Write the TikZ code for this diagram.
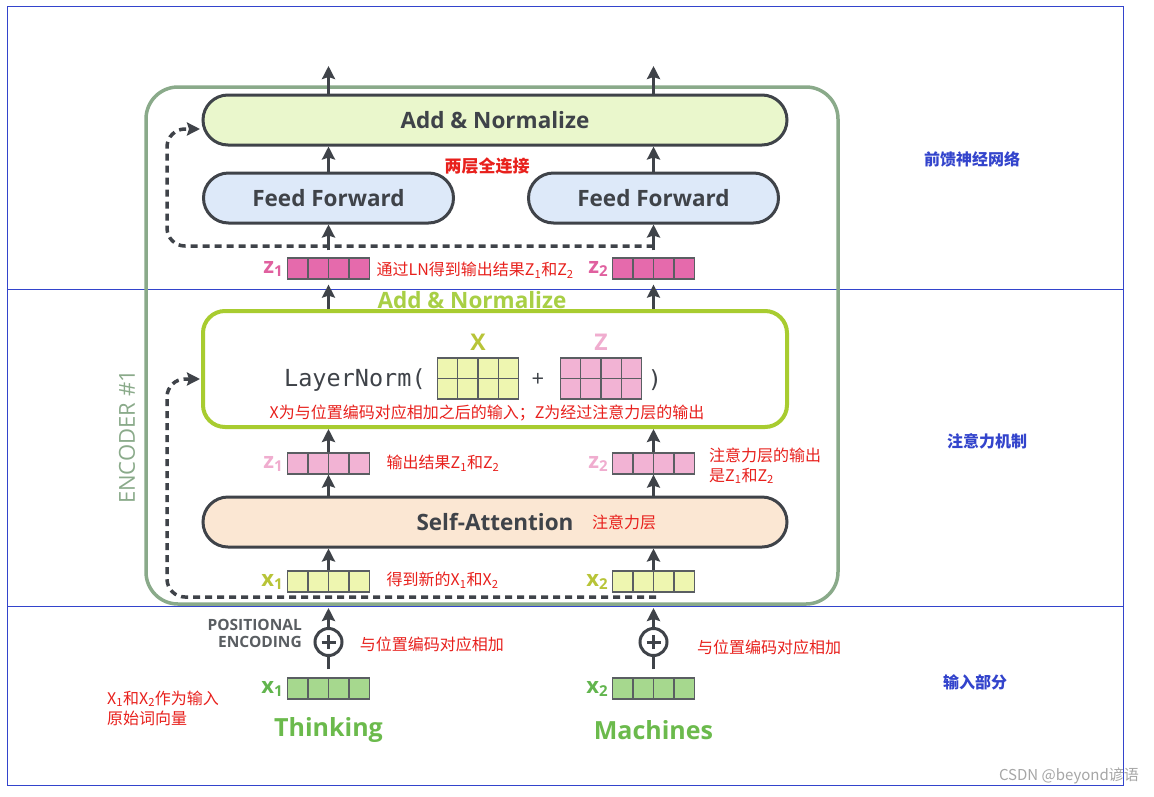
\documentclass[tikz,border=0pt]{standalone}
\usepackage{fontspec}
\setmainfont{Open Sans}
\setmonofont{DejaVu Sans Mono}
\newfontfamily\cjk{Noto Sans CJK SC}
\usetikzlibrary{arrows.meta}
\usetikzlibrary{positioning}

\definecolor{partblue}{HTML}{3344CC}
\definecolor{framegreen}{HTML}{8AAA8A}
\definecolor{inkgray}{HTML}{3F4349}
\definecolor{rulegray}{HTML}{5A5E62}
\definecolor{normfill}{HTML}{EAF7CC}
\definecolor{fffill}{HTML}{DDE9F9}
\definecolor{lngreen}{HTML}{A8CC30}
\definecolor{lngreentext}{HTML}{A8CF45}
\definecolor{attfill}{HTML}{FBE7D3}
\definecolor{zdark}{HTML}{E56AAC}
\definecolor{zdarklbl}{HTML}{E0609F}
\definecolor{zlight}{HTML}{F2B3D4}
\definecolor{zlightlbl}{HTML}{F0ADCF}
\definecolor{xlight}{HTML}{EEF6B0}
\definecolor{xlightlbl}{HTML}{B8C438}
\definecolor{xinput}{HTML}{A6D88E}
\definecolor{xinputlbl}{HTML}{62B54E}
\definecolor{wordgreen}{HTML}{6BBA4C}
\definecolor{notered}{HTML}{E8201C}

% one word vector: name, centre x, centre y, fill
\newcommand{\wordvec}[4]{%
  \node[vecbox, fill=#4] (#1) at (#2,#3) {};
  \foreach \k in {1,2,3}
    \draw[vecline] ({#2-41+\k*20.5},{#3-10.5}) -- ({#2-41+\k*20.5},{#3+10.5});
}
% two word vectors stacked: name, centre x, centre y, fill
\newcommand{\wordgrid}[4]{%
  \node[vecbox, fill=#4, minimum width=81pt, minimum height=41pt] (#1) at (#2,#3) {};
  \foreach \k in {1,2,3}
    \draw[vecline] ({#2-40.5+\k*20.25},{#3-20.5}) -- ({#2-40.5+\k*20.25},{#3+20.5});
  \draw[vecline] ({#2-40.5},#3) -- ({#2+40.5},#3);
}
\newcommand{\veclabel}[2]{{\fontsize{22}{22}\selectfont\bfseries #1\raisebox{-3pt}{\fontsize{15}{15}\selectfont #2}}}

\begin{document}
\begin{tikzpicture}[x=1pt,y=-1pt,>={Stealth[length=13pt,width=13pt,inset=2pt]},
    pill/.style={draw=inkgray, line width=3pt, rounded corners=25pt, minimum height=50pt,
      inner sep=0pt, text=inkgray, font=\bfseries\fontsize{22.5}{26}\selectfont},
    vecbox/.style={draw=rulegray, line width=1.2pt, minimum width=82pt, minimum height=21pt, inner sep=0pt},
    vecline/.style={rulegray, line width=1.2pt},
    veclbl/.style={inner sep=0pt},
    flow/.style={->, inkgray, line width=3.5pt},
    skip/.style={->, inkgray, line width=3.5pt, dash pattern=on 7pt off 5pt, rounded corners=18pt},
    note/.style={text=notered, inner sep=0pt, anchor=west, align=left,
      font=\cjk\fontsize{16}{20}\selectfont},
    part/.style={text=partblue, inner sep=0pt, font=\cjk\bfseries\fontsize{16}{19}\selectfont}]
  \useasboundingbox (0,0) rectangle (1154,796);
  \fill[white] (0,0) rectangle (1154,796);

  % three parts
  \draw[partblue, line width=1pt] (7,6) rectangle (1123,785)
    (7,289) -- (1123,289) (7,606) -- (1123,606);
  \node[part] (ffpart) at (972,159) {前馈神经网络};
  \node[part] (attpart) at (987,441) {注意力机制};
  \node[part] (inpart) at (975,682) {输入部分};

  % encoder
  \draw[framegreen, line width=3.5pt, rounded corners=32pt] (146,87) rectangle (838,604);
  \node[rotate=90, text=framegreen, font=\fontsize{22}{22}\selectfont] (enclbl) at (127,437) {ENCODER \#1};

  % feed forward
  \node[pill, fill=normfill, minimum width=584pt] (addtop) at (495,120) {Add \& Normalize};
  \node[pill, fill=fffill, minimum width=250pt] (ff1) at (328.5,198) {Feed Forward};
  \node[pill, fill=fffill, minimum width=250pt] (ff2) at (653.5,198) {Feed Forward};
  \coordinate (out1) at (328.5,66);
  \coordinate (out2) at (653.5,66);
  \draw[flow] (addtop.north -| out1) -- (out1);
  \draw[flow] (addtop.north -| out2) -- (out2);
  \draw[flow] (ff1.north) -- (ff1.north |- addtop.south);
  \draw[flow] (ff2.north) -- (ff2.north |- addtop.south);
  \node[note, anchor=center, font=\cjk\bfseries\fontsize{17}{20}\selectfont] (fcnote) at (487,166) {两层全连接};

  \wordvec{zt1}{328.5}{268.5}{zdark}
  \wordvec{zt2}{653.5}{268.5}{zdark}
  \node[veclbl, text=zdarklbl, left=4pt of zt1] (zt1lbl) {\veclabel{z}{1}};
  \node[veclbl, text=zdarklbl, left=4pt of zt2] (zt2lbl) {\veclabel{z}{2}};
  \node[note] (zlnnote) at (376.5,270) {通过LN得到输出结果Z\textsubscript{1}和Z\textsubscript{2}};
  \draw[flow] ([yshift=7pt]zt1.north) -- (ff1.south);
  \draw[flow] ([yshift=7pt]zt2.north) -- (ff2.south);
  \coordinate (skipout1) at (653.5,246);
  \coordinate (skipin1) at (200,129);
  \draw[skip] (skipout1) -- (167,246) -- (167,129) -- (skipin1);

  % attention
  \node[text=lngreentext, font=\bfseries\fontsize{22.5}{26}\selectfont, inner sep=0pt] (addlbl) at (472,300) {Add \& Normalize};
  \node[draw=lngreen, line width=4pt, rounded corners=22pt, minimum width=584pt,
    minimum height=116pt, fill=white] (lnbox) at (495,369) {};
  \node[anchor=west, inner sep=0pt, text=inkgray, font=\ttfamily\fontsize{23.5}{26}\selectfont] (lnopen) at (284,380) {LayerNorm(};
  \wordgrid{xgrid}{478}{378.5}{xlight}
  \wordgrid{zgrid}{601}{378.5}{zlight}
  \node[text=xlightlbl, font=\bfseries\fontsize{23}{23}\selectfont] (xlbl) at (478,342) {X};
  \node[text=zlightlbl, font=\bfseries\fontsize{23}{23}\selectfont] (zlbl) at (601,342) {Z};
  \node[text=inkgray, font=\fontsize{22}{22}\selectfont] (plus) at (538,380) {+};
  \node[text=inkgray, font=\ttfamily\fontsize{23.5}{26}\selectfont] (lnclose) at (655,380) {)};
  \node[note, anchor=center] (xznote) at (487,413) {X为与位置编码对应相加之后的输入；Z为经过注意力层的输出};
  \draw[flow] (lnbox.north -| zt1) -- ([yshift=-5pt]zt1.south);
  \draw[flow] (lnbox.north -| zt2) -- ([yshift=-5pt]zt2.south);

  \wordvec{zm1}{328.5}{463.5}{zlight}
  \wordvec{zm2}{653.5}{463.5}{zlight}
  \node[veclbl, text=zlightlbl, left=4pt of zm1] (zm1lbl) {\veclabel{z}{1}};
  \node[veclbl, text=zlightlbl, left=4pt of zm2] (zm2lbl) {\veclabel{z}{2}};
  \node[note] (zmnote) at (386.5,463) {输出结果Z\textsubscript{1}和Z\textsubscript{2}};
  \node[note] (attoutnote) at (709,465.5) {注意力层的输出\\是Z\textsubscript{1}和Z\textsubscript{2}};
  \draw[flow] (zm1.north) -- (zm1.north |- lnbox.south);
  \draw[flow] (zm2.north) -- (zm2.north |- lnbox.south);

  \node[pill, fill=attfill, minimum width=584pt] (selfatt) at (495,522) {Self-Attention};
  \node[note] (attnote) at (592,522) {注意力层};
  \draw[flow] (selfatt.north -| zm1) -- (zm1.south);
  \draw[flow] (selfatt.north -| zm2) -- (zm2.south);

  \wordvec{xm1}{328.5}{581.5}{xlight}
  \wordvec{xm2}{653.5}{581.5}{xlight}
  \node[veclbl, text=xlightlbl, left=4pt of xm1] (xm1lbl) {\veclabel{x}{1}};
  \node[veclbl, text=xlightlbl, left=4pt of xm2] (xm2lbl) {\veclabel{x}{2}};
  \node[note] (xmnote) at (386.5,580) {得到新的X\textsubscript{1}和X\textsubscript{2}};
  \draw[flow] (xm1.north) -- (xm1.north |- selfatt.south);
  \draw[flow] (xm2.north) -- (xm2.north |- selfatt.south);
  \coordinate (skipout2) at (656,597);
  \coordinate (skipin2) at (200,379);
  \draw[skip] (skipout2) -- (167,597) -- (167,379) -- (skipin2);

  % input
  \wordvec{xi1}{328.5}{688.5}{xinput}
  \wordvec{xi2}{653.5}{688.5}{xinput}
  \node[veclbl, text=xinputlbl, left=4pt of xi1] (xi1lbl) {\veclabel{x}{1}};
  \node[veclbl, text=xinputlbl, left=4pt of xi2] (xi2lbl) {\veclabel{x}{2}};
  \node[text=wordgreen, font=\bfseries\fontsize{25}{28}\selectfont] (word1) at (328.5,730) {Thinking};
  \node[text=wordgreen, font=\bfseries\fontsize{25}{28}\selectfont] (word2) at (653.5,730) {Machines};
  \node[note] (wordnote) at (107,708) {X\textsubscript{1}和X\textsubscript{2}作为输入\\原始词向量};

  \foreach \n/\x in {1/328.5, 2/653.5} {
    \node[circle, draw=inkgray, line width=3pt, minimum size=27pt, inner sep=0pt] (pe\n) at (\x,642) {};
    \draw[inkgray, line width=3pt] ([xshift=-7pt]pe\n.center) -- ([xshift=7pt]pe\n.center)
      ([yshift=-7pt]pe\n.center) -- ([yshift=7pt]pe\n.center);
    \coordinate (enc\n) at (\x,608);
    \draw[flow] (pe\n.north) -- (enc\n);
    \draw[inkgray, line width=3.5pt] ([yshift=8pt]xi\n.north) -- (pe\n.south);
  }
  \node[anchor=east, align=right, inner sep=0pt, text=rulegray,
    font=\bfseries\fontsize{15.5}{17}\selectfont] (pelbl) at (302,633) {POSITIONAL\\ENCODING};
  \node[note] (penote1) at (359.6,644) {与位置编码对应相加};
  \node[note] (penote2) at (697,647) {与位置编码对应相加};

  \node[anchor=east, inner sep=0pt, text=gray!70, font=\cjk\fontsize{15}{15}\selectfont] (mark) at (1139,776) {CSDN @beyond谚语};
\end{tikzpicture}
\end{document}
